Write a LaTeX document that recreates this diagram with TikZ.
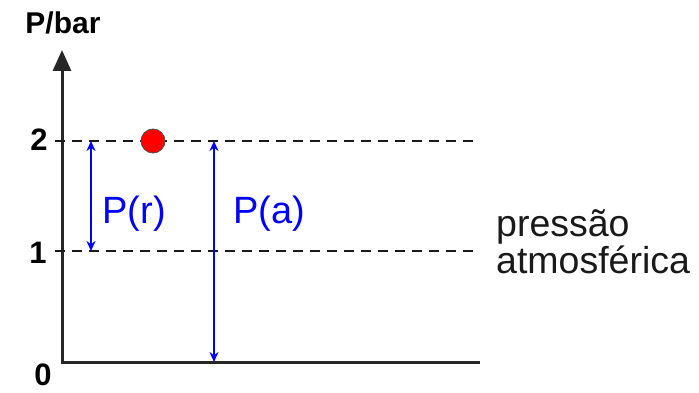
\documentclass[tikz,border=0pt]{standalone}
\usepackage{fontspec}
\setmainfont{Liberation Sans}
\usetikzlibrary{arrows.meta}
\begin{document}
\begin{tikzpicture}[x=1pt,y=-1pt,
  axisline/.style={line width=3pt,draw=black!85},
  levelline/.style={line width=2pt,draw=black!90,dash pattern=on 10pt off 7pt},
  measure/.style={draw=blue,line width=2.2pt,{Stealth[length=10pt,width=9pt]}-{Stealth[length=10pt,width=9pt]}},
  ticklabel/.style={font=\bfseries\fontsize{31}{31}\selectfont,inner sep=0pt},
  bluelabel/.style={text=blue,font=\fontsize{38}{38}\selectfont,inner sep=0pt},
  notelabel/.style={text=black!90,font=\fontsize{37.5}{37.5}\selectfont,inner sep=0pt,anchor=base west},
]
\useasboundingbox (0,0) rectangle (699,393);
% axes
\coordinate (top) at (62,50);
\coordinate (O) at (62,362);
\coordinate (xend) at (480,362);
\draw[axisline,{Triangle[length=21pt,width=18pt]}-] (top) -- (O) -- (xend);
\node[font=\bfseries\fontsize{30}{30}\selectfont,inner sep=0pt] (unit) at (63,23) {P/bar};
% level lines
\coordinate (l2s) at (55,141);
\coordinate (l2e) at (480,141);
\coordinate (l1s) at (55,251);
\coordinate (l1e) at (480,251);
\draw[levelline] (l2s) -- (l2e);
\draw[levelline] (l1s) -- (l1e);
% tick labels
\node[ticklabel] (t2) at (39,140) {2};
\node[ticklabel] (t1) at (38,253) {1};
\node[ticklabel] (t0) at (43,375) {0};
% red dot
\node[circle,fill=red,draw=black!70,line width=0.8pt,minimum size=24pt,inner sep=0pt] (dot) at (153,141) {};
% measures
\coordinate (r2) at (91,141);
\coordinate (r1) at (91,251);
\coordinate (a2) at (214,141);
\coordinate (a0) at (214,362);
\draw[measure] (r2) -- (r1);
\draw[measure] (a2) -- (a0);
\node[bluelabel] (pr) at (134,214) {P(r)};
\node[bluelabel] (pa) at (269,214) {P(a)};
% note
\node[notelabel] (n1) at (496,236) {pressão};
\node[notelabel] (n2) at (496,273) {atmosférica};
\end{tikzpicture}
\end{document}
